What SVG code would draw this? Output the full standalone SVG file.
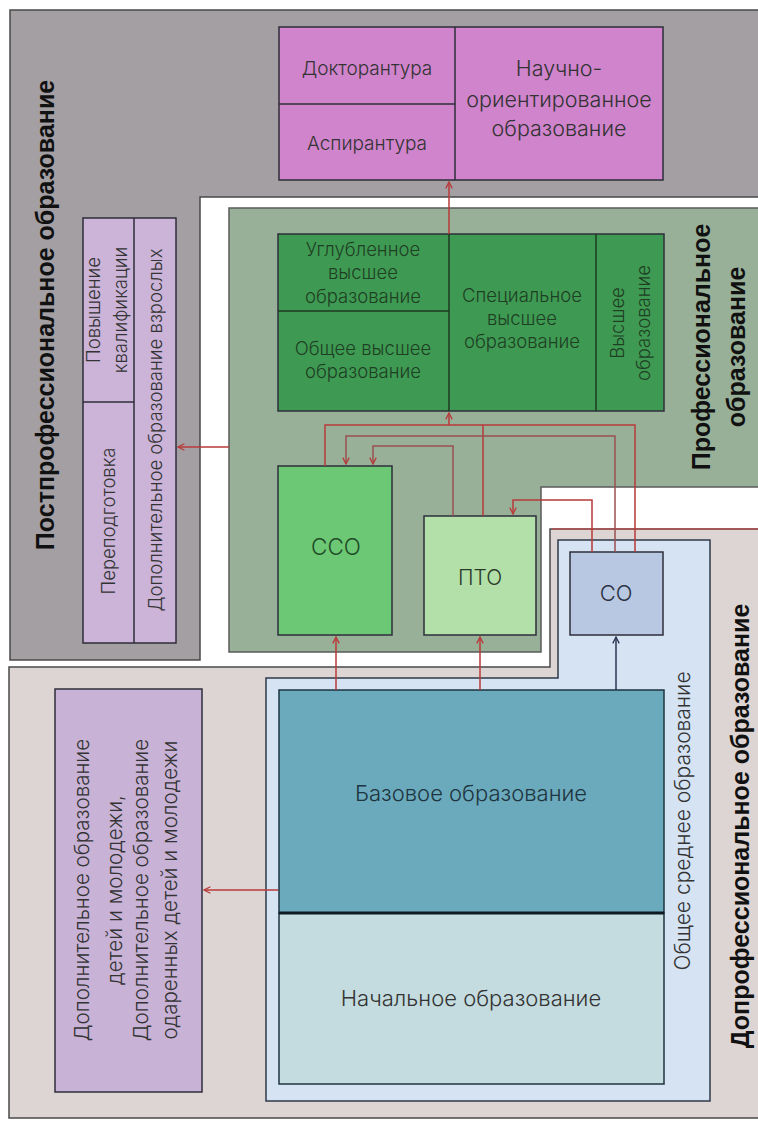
<svg xmlns="http://www.w3.org/2000/svg" width="758" height="1121" viewBox="0 0 758 1121">
<defs>
<style>
.t{font-family:Inter,"Liberation Sans",sans-serif;font-weight:300;fill:#333333;text-anchor:middle}
.h{font-family:"Liberation Sans",Arial,sans-serif;font-weight:bold;fill:#111;text-anchor:middle}
.box{stroke:#2e2e3a;stroke-width:1.5}
.c{fill:none;stroke:#b83a3a;stroke-width:1.5}
.c2{fill:none;stroke:#9a5050;stroke-width:1.5}
</style>
<marker id="ar" viewBox="0 0 10 10" refX="9" refY="5" markerWidth="8" markerHeight="8" orient="auto" markerUnits="userSpaceOnUse">
<path d="M1,1 L9,5 L1,9" fill="none" stroke="#b83a3a" stroke-width="1.6"/>
</marker>
<marker id="ard" viewBox="0 0 10 10" refX="9" refY="5" markerWidth="8" markerHeight="8" orient="auto" markerUnits="userSpaceOnUse">
<path d="M1,1 L9,5 L1,9" fill="none" stroke="#2a3550" stroke-width="1.6"/>
</marker>
</defs>
<rect width="758" height="1121" fill="#ffffff"/>

<g id="postprof-region">
<polygon points="10,10 762,10 762,197 200,197 200,660 10,660" fill="#a39fa3" stroke="#4a4a4a" stroke-width="1.5"/>
<text class="h" font-size="25" transform="translate(54,315) rotate(-90)">Постпрофессиональное образование</text>
</g>

<g id="prof-region">
<polygon points="229,208 762,208 762,487 541,487 541,652 229,652" fill="#98b098" stroke="#5a5a5a" stroke-width="1.5"/>
<text class="h" font-size="25" transform="translate(710,347) rotate(-90)">Профессиональное</text>
<text class="h" font-size="25" transform="translate(745,347) rotate(-90)">образование</text>
</g>

<g id="preprof-region">
<polygon points="9,667 550,667 550,529 762,529 762,1118 9,1118" fill="#ddd5d3" stroke="#4a4a4a" stroke-width="1.5"/>
<line x1="552" y1="529" x2="760" y2="529" stroke="#b05050" stroke-width="1.5"/>
<text class="h" font-size="25" transform="translate(749,826) rotate(-90)">Допрофессиональное  образование</text>
</g>

<g id="general-secondary">
<polygon points="558,540 710,540 710,1101 266,1101 266,678 558,678" fill="#d5e3f3" stroke="#2e3a4a" stroke-width="1.5"/>
<text class="t" font-size="21" transform="translate(690,821) rotate(-90)">Общее среднее  образование</text>
</g>

<g id="science">
<rect x="279" y="27" width="384" height="153" fill="#d084cc" class="box"/>
<line x1="455" y1="27" x2="455" y2="180" stroke="#2e2e3a" stroke-width="1.5"/>
<line x1="279" y1="104" x2="455" y2="104" stroke="#2e2e3a" stroke-width="1.5"/>
<text class="t" font-size="19" x="367" y="75">Докторантура</text>
<text class="t" font-size="19" x="367" y="150">Аспирантура</text>
<text class="t" font-size="21.5" x="559" y="76">Научно-</text>
<text class="t" font-size="21.5" x="559" y="107">ориентированное</text>
<text class="t" font-size="21.5" x="559" y="136">образование</text>
</g>

<g id="higher">
<rect x="278" y="234" width="386" height="177" fill="#3e9a52" class="box" stroke="#1e3a22"/>
<line x1="449" y1="234" x2="449" y2="411" stroke="#1e3a22" stroke-width="1.5"/>
<line x1="596" y1="234" x2="596" y2="411" stroke="#1e3a22" stroke-width="1.5"/>
<line x1="278" y1="311" x2="449" y2="311" stroke="#1e3a22" stroke-width="1.5"/>
<g class="t" font-size="18.5" style="fill:#1f3f24">
<text x="363" y="256">Углубленное</text>
<text x="363" y="279">высшее</text>
<text x="363" y="303">образование</text>
<text x="363" y="355">Общее высшее</text>
<text x="363" y="378">образование</text>
<text x="522" y="302">Специальное</text>
<text x="522" y="325">высшее</text>
<text x="522" y="348">образование</text>
<text transform="translate(624,323) rotate(-90)">Высшее</text>
<text transform="translate(650,323) rotate(-90)">образование</text>
</g>
</g>

<g id="postprof-box">
<rect x="83" y="218" width="93" height="425" fill="#cbb4d8" class="box"/>
<line x1="134" y1="218" x2="134" y2="643" stroke="#2e2e3a" stroke-width="1.5"/>
<line x1="83" y1="402" x2="134" y2="402" stroke="#2e2e3a" stroke-width="1.5"/>
<g class="t" font-size="18.5">
<text transform="translate(100,310) rotate(-90)">Повышение</text>
<text transform="translate(127,310) rotate(-90)">квалификации</text>
<text transform="translate(115,521) rotate(-90)">Переподготовка</text>
<text transform="translate(162,430) rotate(-90)">Дополнительное образование взрослых</text>
</g>
</g>

<g id="cco">
<rect x="278" y="466" width="114" height="169" fill="#6cc874" class="box" stroke="#1e3a22"/>
<text class="t" font-size="22.5" x="336" y="555" style="fill:#1f4a26">ССО</text>
</g>

<g id="pto">
<rect x="424" y="516" width="112" height="119" fill="#b2e0a8" class="box" stroke="#1e3a22"/>
<text class="t" font-size="21" x="480" y="585" style="fill:#2a3a2a">ПТО</text>
</g>

<g id="co">
<rect x="570" y="552" width="93" height="83" fill="#b8c8e2" class="box"/>
<text class="t" font-size="22" x="616" y="601" style="fill:#2a3040">СО</text>
</g>

<g id="basic">
<rect x="279" y="690" width="385" height="223" fill="#6aaabc" stroke="#1e3440" stroke-width="1.5"/>
<text class="t" font-size="22" x="471" y="801" style="fill:#1e3440">Базовое образование</text>
</g>

<g id="initial">
<rect x="279" y="913" width="385" height="171" fill="#c4dcdf" stroke="#1e3440" stroke-width="1.5"/>
<line x1="279" y1="913" x2="664" y2="913" stroke="#0e1a24" stroke-width="3"/>
<text class="t" font-size="22" x="471" y="1006">Начальное образование</text>
</g>

<g id="dop-box">
<rect x="55" y="689" width="147" height="403" fill="#c8b2d6" class="box"/>
<g class="t" font-size="20.5">
<text transform="translate(89,890) rotate(-90)">Дополнительное образование</text>
<text transform="translate(122,890) rotate(-90)">детей и молодежи,</text>
<text transform="translate(148,890) rotate(-90)">Дополнительное образование</text>
<text transform="translate(177,890) rotate(-90)">одаренных детей и молодежи</text>
</g>
</g>

<g id="connectors">
<path class="c" d="M449,234 V182" marker-end="url(#ar)"/>
<path class="c" d="M229,447 H178" marker-end="url(#ar)"/>
<path class="c" d="M278,890 H204" marker-end="url(#ar)"/>
<path class="c" d="M336,690 V637" marker-end="url(#ar)"/>
<path class="c" d="M480,690 V637" marker-end="url(#ar)"/>
<path fill="none" stroke="#2a3550" stroke-width="1.5" d="M616,690 V637" marker-end="url(#ard)"/>
<path class="c" d="M325,466 V425 H635 V552"/>
<path class="c" d="M483,516 V425"/>
<path class="c" d="M449,425 V413" marker-end="url(#ar)"/>
<path class="c2" d="M615,552 V436 H346 V464" marker-end="url(#ar)"/>
<path class="c2" d="M453,516 V446 H373 V464" marker-end="url(#ar)"/>
<path class="c" d="M592,552 V500 H513 V514" marker-end="url(#ar)"/>
</g>
</svg>
